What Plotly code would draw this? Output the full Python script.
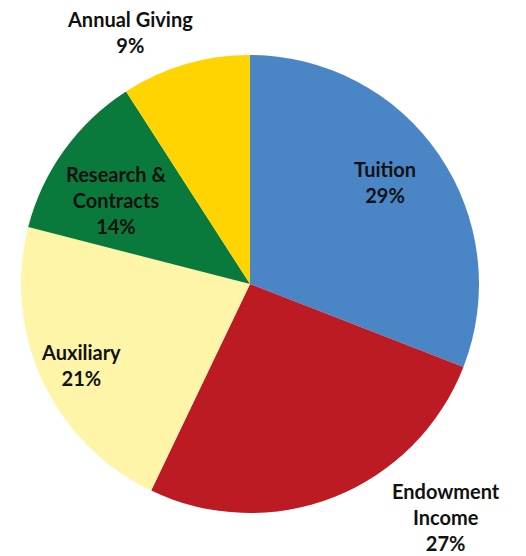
import math
import plotly.graph_objects as go

categories = ["Tuition", "Endowment Income", "Auxiliary", "Research & Contracts", "Annual Giving"]
# slice sizes as drawn in the reference (share of the circle, %)
values = [30.9, 26.2, 21.9, 11.9, 9.1]
# percentages as printed on the reference labels
pct_labels = ["29%", "27%", "21%", "14%", "9%"]
label_text = ["Tuition", "Endowment<br>Income", "Auxiliary", "Research &<br>Contracts", "Annual Giving"]
colors = ["#4A86C6", "#BD1B23", "#FFF5A8", "#0A7A3C", "#FFD400"]

# label placement style: radial factor and angular shift (deg) per slice
label_r = [0.74, 1.33, 0.82, 0.69, 1.22]
label_shift = [-2.6, -18.4, -0.5, -3.8, -9.1]

W, H = 526, 556
cx, cy, R = 250, 284, 229

fig = go.Figure(go.Pie(
    labels=categories,
    values=values,
    sort=False,
    direction="clockwise",
    rotation=0,
    marker=dict(colors=colors, line=dict(width=0)),
    textinfo="none",
    hoverinfo="label",
    showlegend=False,
    domain=dict(x=[(cx - R) / W, (cx + R) / W], y=[(H - cy - R) / H, (H - cy + R) / H]),
))

total = sum(values)
cum = 0
annotations = []
for i, v in enumerate(values):
    mid = (cum + v / 2) / total * 360 + label_shift[i]
    cum += v
    rad = math.radians(mid)
    px = cx + label_r[i] * R * math.sin(rad)
    py = cy - label_r[i] * R * math.cos(rad)
    annotations.append(dict(
        x=px / W, y=1 - py / H, xref="paper", yref="paper",
        text=f"{label_text[i]}<br>{pct_labels[i]}", showarrow=False,
        xanchor="center", yanchor="middle", align="center",
        font=dict(family="Lato", size=20, color="#111111", weight="bold"),
    ))

fig.update_layout(
    width=W, height=H,
    margin=dict(l=0, r=0, t=0, b=0),
    paper_bgcolor="white",
    plot_bgcolor="white",
    annotations=annotations,
)

fig.write_html("out.html")
